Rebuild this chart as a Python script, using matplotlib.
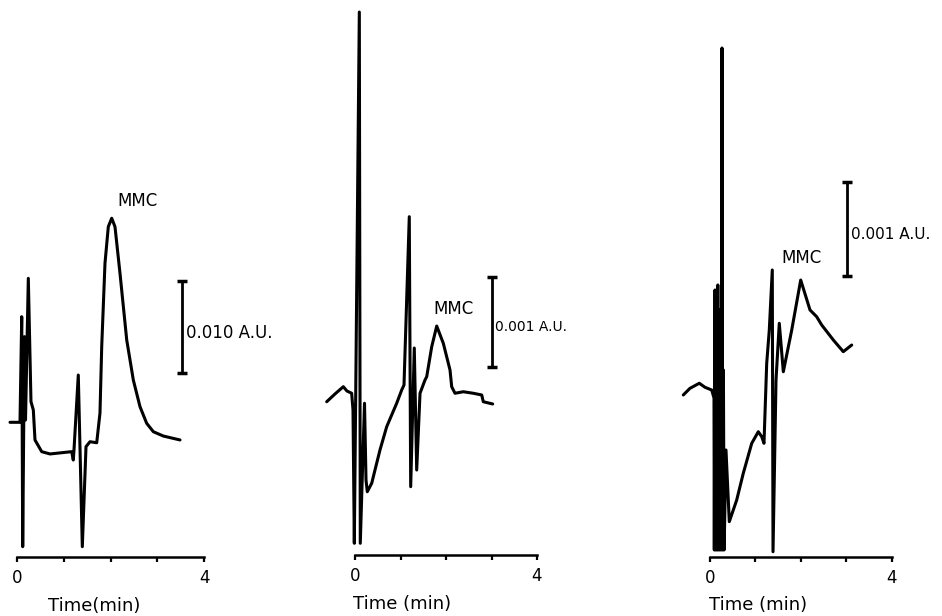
import matplotlib.pyplot as plt

plt.rcParams['font.family'] = ['DejaVu Sans']

### Chromatogram traces (time in min, absorbance in mAU) ###
t1 = [-0.150, 0.064, 0.101, 0.122, 0.160, 0.182, 0.242, 0.299, 0.349, 0.385, 0.528, 0.706,
      1.170, 1.204, 1.219, 1.311, 1.397, 1.476, 1.561, 1.705, 1.775, 1.812, 1.882, 1.953,
      2.026, 2.096, 2.203, 2.347, 2.488, 2.631, 2.774, 2.916, 3.129, 3.487]
a1 = [14.64, 14.64, 26.12, 1.12, 23.95, 14.89, 30.29, 16.88, 15.98, 12.72, 11.45, 11.20,
      11.45, 10.54, 11.63, 19.78, 1.12, 11.99, 12.53, 12.42, 15.65, 22.86, 31.92, 35.90,
      36.82, 35.90, 30.84, 23.59, 19.24, 16.34, 14.53, 13.62, 13.15, 12.72]

t2 = [-0.622, -0.440, -0.257, -0.176, -0.073, -0.044, -0.015, 0.029, 0.095, 0.116, 0.209,
      0.242, 0.270, 0.367, 0.549, 0.697, 0.916, 1.026, 1.077, 1.193, 1.224, 1.303, 1.356,
      1.429, 1.538, 1.576, 1.686, 1.796, 1.941, 2.088, 2.125, 2.198, 2.380, 2.600, 2.785,
      2.820, 3.026]
a2 = [1.703, 1.789, 1.870, 1.822, 1.797, 1.611, 0.130, 2.500, 6.033, 0.130, 1.686,
      0.833, 0.703, 0.797, 1.167, 1.426, 1.686, 1.833, 1.889, 3.759, 0.759, 2.300, 0.944,
      1.797, 1.944, 1.981, 2.314, 2.544, 2.352, 2.056, 1.870, 1.797, 1.814, 1.797, 1.778,
      1.703, 1.678]

t3 = [-0.588, -0.441, -0.236, -0.110, 0.037, 0.088,
      0.095, 0.110, 0.126, 0.141, 0.156, 0.172, 0.187, 0.203, 0.218, 0.233, 0.249,
      0.264, 0.280, 0.295, 0.311,
      0.352, 0.425, 0.588, 0.733, 0.919, 1.064, 1.139, 1.189,
      1.249, 1.306, 1.372, 1.388, 1.454, 1.526, 1.615, 1.800, 1.998, 2.203, 2.350, 2.460,
      2.716, 2.936, 3.121]
a3 = [1.726, 1.797, 1.851, 1.808, 1.779, 1.694,
      0.072, 2.846, 0.072, 2.740, 0.072, 2.900, 0.072, 2.633, 0.072, 2.420, 0.072,
      5.429, 0.072, 1.993, 0.072,
      1.139, 0.374, 0.605, 0.890, 1.210, 1.334, 1.281, 1.210,
      2.064, 2.419, 3.060, 0.053, 1.886, 2.491, 1.974, 2.419, 2.953, 2.633, 2.561, 2.473,
      2.313, 2.188, 2.259]

# scale bars: (time, low, high) in mAU
bar1 = (3.536, 20.0, 30.0)
bar2 = (3.000, 2.09, 3.09)
bar3 = (3.024, 3.00, 4.00)
bar_labels = ['0.010 A.U.', '0.001 A.U.', '0.001 A.U.']
x_labels = ['Time(min)', 'Time (min)', 'Time (min)']

# peak label positions (time, mAU)
mmc1 = (2.58, 38.7)
mmc2 = (2.165, 2.73)
mmc3 = (2.026, 3.19)

W, H = 942, 616
fig = plt.figure(figsize=(W / 100, H / 100), dpi=100)


def panel(left, width, x0, px_min, axis_y, px_unit):
    # each panel gets its own pixel scale for time and absorbance
    ax = fig.add_axes([left / W, 0, width / W, 1])
    ax.set_xlim((left - x0) / px_min, (left + width - x0) / px_min)
    ax.set_ylim((axis_y - H) / px_unit, axis_y / px_unit)
    for s in ['top', 'right', 'left']:
        ax.spines[s].set_visible(False)
    ax.spines['bottom'].set_position(('data', 0))
    ax.spines['bottom'].set_bounds(0, 4)
    ax.spines['bottom'].set_linewidth(1.8)
    ax.set_yticks([])
    ax.set_xticks([0, 1, 2, 3, 4])
    ax.set_xticklabels(['0', '', '', '', '4'])
    ax.tick_params(axis='x', direction='out', length=3.5, width=1.6, pad=5, labelsize=12)
    ax.patch.set_alpha(0)
    return ax


axes = [panel(0, 300, 17, 46.75, 557, 9.2),
        panel(310, 290, 355, 45.5, 555, 90),
        panel(660, 282, 710, 45.4, 556.7, 93.7)]

traces = [(t1, a1), (t2, a2), (t3, a3)]
bars = [bar1, bar2, bar3]
mmcs = [mmc1, mmc2, mmc3]
label_x = [0.313, 0.317, 0.348]
bar_fs = [12, 10, 11]

for i, ax in enumerate(axes):
    t, a = traces[i]
    ax.plot(t, a, color='black', lw=2.2, solid_joinstyle='round', solid_capstyle='round')

    bx, lo, hi = bars[i]
    ax.vlines(bx, lo, hi, color='black', lw=2)
    ax.plot([bx, bx], [lo, hi], ls='none', marker='_', ms=7, mew=2.5, color='black')
    ax.text(bx + 0.08, (lo + hi) / 2 - (hi - lo) * 0.06, bar_labels[i],
            ha='left', va='center', fontsize=bar_fs[i])

    ax.text(mmcs[i][0], mmcs[i][1], 'MMC', ha='center', va='center', fontsize=12)
    ax.set_xlabel(x_labels[i], x=label_x[i], fontsize=13, labelpad=7)

plt.savefig('out.png', dpi=100)
